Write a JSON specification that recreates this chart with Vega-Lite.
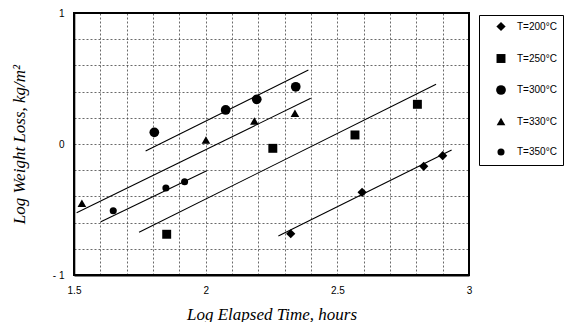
{
  "$schema": "https://vega.github.io/schema/vega-lite/v6.json",
  "width": 395,
  "height": 262,
  "autosize": {"type": "none"},
  "padding": {"left": 74, "top": 13, "right": 99, "bottom": 47},
  "background": "white",
  "config": {
    "font": "Liberation Sans",
    "view": {"stroke": "black", "strokeWidth": 2}
  },
  "datasets": {
    "points": [
      {"T": "T=200°C", "x": 2.323, "y": -0.685},
      {"T": "T=200°C", "x": 2.594, "y": -0.369},
      {"T": "T=200°C", "x": 2.828, "y": -0.17},
      {"T": "T=200°C", "x": 2.9, "y": -0.089},
      {"T": "T=250°C", "x": 1.852, "y": -0.689},
      {"T": "T=250°C", "x": 2.255, "y": -0.033},
      {"T": "T=250°C", "x": 2.567, "y": 0.069},
      {"T": "T=250°C", "x": 2.804, "y": 0.303},
      {"T": "T=300°C", "x": 1.805, "y": 0.089},
      {"T": "T=300°C", "x": 2.076, "y": 0.26},
      {"T": "T=300°C", "x": 2.194, "y": 0.341},
      {"T": "T=300°C", "x": 2.342, "y": 0.437},
      {"T": "T=330°C", "x": 1.53, "y": -0.453},
      {"T": "T=330°C", "x": 2.001, "y": 0.03},
      {"T": "T=330°C", "x": 2.185, "y": 0.176},
      {"T": "T=330°C", "x": 2.339, "y": 0.234},
      {"T": "T=350°C", "x": 1.649, "y": -0.509},
      {"T": "T=350°C", "x": 1.849, "y": -0.336},
      {"T": "T=350°C", "x": 1.92, "y": -0.288}
    ],
    "fits": [
      {"T": "T=200°C", "x": 2.276, "y": -0.702, "x2": 2.934, "y2": -0.046},
      {"T": "T=250°C", "x": 1.747, "y": -0.674, "x2": 2.875, "y2": 0.456},
      {"T": "T=300°C", "x": 1.772, "y": -0.053, "x2": 2.39, "y2": 0.565},
      {"T": "T=330°C", "x": 1.51, "y": -0.524, "x2": 2.399, "y2": 0.349},
      {"T": "T=350°C", "x": 1.602, "y": -0.593, "x2": 2.004, "y2": -0.204}
    ],
    "frame": [
      {"x": 1.5, "x2": 3, "y": -1, "y2": 1}
    ]
  },
  "layer": [
    {
      "data": {"name": "fits"},
      "mark": {"type": "rule", "color": "black", "strokeWidth": 1.1},
      "encoding": {
        "x": {"field": "x", "type": "quantitative", "scale": {"domain": [1.5, 3], "nice": false, "zero": false},
          "axis": {
            "values": [1.5, 1.6, 1.7, 1.8, 1.9, 2, 2.1, 2.2, 2.3, 2.4, 2.5, 2.6, 2.7, 2.8, 2.9, 3],
            "tickCount": 40,
            "labelExpr": "datum.value == 1.5 ? '1.5' : datum.value == 2 ? '2' : datum.value == 2.5 ? '2.5' : datum.value == 3 ? '3' : ''",
            "labelOverlap": false, "labelFlush": false,
            "grid": true, "gridDash": [2, 2], "gridColor": "#444", "gridWidth": 0.8,
            "ticks": false, "domain": true, "domainColor": "black", "domainWidth": 2,
            "labelFontSize": 10, "labelColor": "black", "labelPadding": 10,
            "title": "Log Elapsed Time, hours",
            "titleFont": "Liberation Serif", "titleFontStyle": "italic", "titleFontWeight": "normal",
            "titleFontSize": 17, "titleColor": "black", "titlePadding": 11
          }},
        "y": {"field": "y", "type": "quantitative", "scale": {"domain": [-1, 1], "nice": false, "zero": false},
          "axis": {
            "values": [-1, -0.8, -0.6, -0.4, -0.2, 0, 0.2, 0.4, 0.6, 0.8, 1],
            "tickCount": 40,
            "labelExpr": "datum.value == 1 ? '1' : datum.value == 0 ? '0' : datum.value == -1 ? '- 1' : ''",
            "labelOverlap": false, "labelFlush": false,
            "grid": true, "gridDash": [2, 2], "gridColor": "#444", "gridWidth": 0.8,
            "ticks": false, "domain": true, "domainColor": "black", "domainWidth": 1.6,
            "labelFontSize": 10, "labelColor": "black", "labelPadding": 10,
            "title": "Log Weight Loss, kg/m²",
            "titleFont": "Liberation Serif", "titleFontStyle": "italic", "titleFontWeight": "normal",
            "titleFontSize": 17, "titleColor": "black", "titlePadding": 24
          }},
        "x2": {"field": "x2"},
        "y2": {"field": "y2"}
      }
    },
    {
      "data": {"name": "frame"},
      "mark": {"type": "rect", "filled": false, "color": "#000000", "strokeWidth": 2, "opacity": 1, "strokeOpacity": 1},
      "encoding": {
        "x": {"field": "x", "type": "quantitative"},
        "x2": {"field": "x2"},
        "y": {"field": "y", "type": "quantitative"},
        "y2": {"field": "y2"}
      }
    },
    {
      "data": {"name": "points"},
      "mark": {"type": "point", "filled": true, "color": "black", "opacity": 1},
      "encoding": {
        "x": {"field": "x", "type": "quantitative"},
        "y": {"field": "y", "type": "quantitative"},
        "shape": {"field": "T", "type": "nominal",
          "scale": {"domain": ["T=200°C", "T=250°C", "T=300°C", "T=330°C", "T=350°C"],
                    "range": ["diamond", "square", "circle", "triangle-up", "circle"]},
          "legend": {
            "title": null, "orient": "none", "legendX": 405, "legendY": 2,
            "strokeColor": "black", "fillColor": "white",
            "padding": 6, "rowPadding": 16, "labelFontSize": 10, "labelColor": "black",
            "symbolFillColor": "black", "symbolStrokeColor": "black", "labelOffset": 10,
            "symbolOffset": 10
          }},
        "size": {"field": "T", "type": "nominal",
          "scale": {"type": "ordinal", "domain": ["T=200°C", "T=250°C", "T=300°C", "T=330°C", "T=350°C"],
                    "range": [85, 80, 95, 75, 50]}}
      }
    }
  ]
}
